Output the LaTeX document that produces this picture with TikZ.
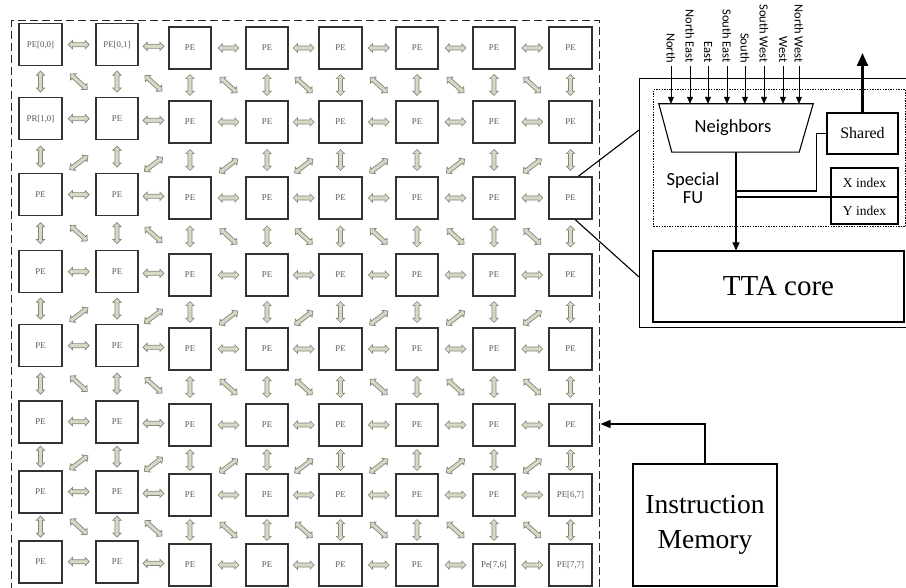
\documentclass[tikz,border=0pt]{standalone}
\usepackage{fontspec}
\setmainfont{Liberation Serif}
\newfontfamily\calib{Carlito}
\usetikzlibrary{shapes.arrows,arrows.meta,calc}
\definecolor{pebd}{HTML}{333333}
\definecolor{petx}{HTML}{555555}
\definecolor{afill}{HTML}{D8D8C6}
\definecolor{aline}{HTML}{85857A}
\def\pelbl#1#2{\ifcsname pl-#1-#2\endcsname\csname pl-#1-#2\endcsname\else PE\fi}
\expandafter\def\csname pl-0-0\endcsname{PE[0,0]}
\expandafter\def\csname pl-0-1\endcsname{PE[0,1]}
\expandafter\def\csname pl-1-0\endcsname{PR[1,0]}
\expandafter\def\csname pl-6-7\endcsname{PE[6,7]}
\expandafter\def\csname pl-7-6\endcsname{Pe[7,6]}
\expandafter\def\csname pl-7-7\endcsname{PE[7,7]}
\begin{document}
\begin{tikzpicture}[x=1pt,y=-1pt,
  pebox/.style={draw=pebd,line width=1.6pt,minimum width=42.5pt,minimum height=42pt,inner sep=0pt,text=petx,font=\fontsize{8.8}{9}\selectfont},
  darr/.style={double arrow,draw=aline,fill=afill,line width=0.7pt,minimum height=21pt,minimum width=0pt,text height=3.4pt,text depth=0pt,double arrow head extend=2.1pt,inner sep=0pt},
  blk/.style={draw=black,line width=1.1pt},
  inarr/.style={line width=1pt,-{Triangle[length=7pt,width=6pt]}},
  dirlbl/.style={font=\calib\fontsize{12.5}{13}\selectfont,rotate=-90,anchor=east,inner sep=1pt},
  plainbox/.style={draw=black,line width=1.1pt,inner sep=0pt}
]
\useasboundingbox (0,0) rectangle (906,588);
\fill[white] (0,0) rectangle (906,588);

% grid border
\node[draw=black!85,line width=1.4pt,dash pattern=on 8pt off 4pt,minimum width=588pt,minimum height=590pt,anchor=north west,inner sep=0pt] (grid) at (11,20) {};

% PEs
\foreach \c/\x in {0/40.5,1/117,2/190,3/267,4/340.5,5/417,6/494,7/570.5}{
  \foreach \r/\y in {0/48,1/122,2/198,3/275,4/349,5/425,6/495,7/565}{
    \pgfmathsetmacro\yy{\c<2 ? \y-3.3 : \y}
    \node[pebox] (p-\r-\c) at (\x,\yy) {\pelbl{\r}{\c}};
  }
}

% horizontal arrows
\foreach \r in {0,...,7}{
  \foreach \c [evaluate=\c as \cn using int(\c+1)] in {0,...,6}{
    \node[darr] (h-\r-\c) at ($(p-\r-\c)!0.5!(p-\r-\cn)$) {};
  }
}
% vertical arrows
\foreach \r [evaluate=\r as \rn using int(\r+1)] in {0,...,6}{
  \foreach \c in {0,...,7}{
    \node[darr,rotate=90] (v-\r-\c) at ($(p-\r-\c)!0.5!(p-\rn-\c)$) {};
  }
}
% diagonal arrows
\foreach \r [evaluate=\r as \rn using int(\r+1), evaluate=\r as \ang using {mod(\r,2)==1 ? 37 : -42}, evaluate=\r as \dy using {mod(\r,2)==1 ? 6 : 0}] in {0,...,6}{
  \foreach \c [evaluate=\c as \cn using int(\c+1)] in {0,...,6}{
    \node[darr,rotate=\ang,minimum height=23pt] (d-\r-\c) at ($(p-\r-\c)!0.5!(p-\rn-\cn)+(0,\dy)$) {};
  }
}

% right panel
\node[draw=black,line width=1.1pt,anchor=north west,minimum width=285pt,minimum height=249pt,inner sep=0pt] (panel) at (639,78) {};
\node[draw=black,line width=1.4pt,dash pattern=on 1.4pt off 1.2pt,anchor=north west,minimum width=252pt,minimum height=137pt,inner sep=0pt] (sfu) at (653,89) {};

\node[minimum width=154pt,minimum height=48pt,inner sep=0pt] (nb) at (736,128) {};
\draw[line width=1.1pt] (nb.north west) -- (nb.north east) -- ([xshift=-14pt]nb.south east) -- ([xshift=13pt]nb.south west) -- cycle;
\node[font=\calib\fontsize{18.5}{18}\selectfont] (nbt) at (733,128) {Neighbors};

\foreach \x/\t [count=\i] in {671/North,690/North East,708/East,727/South East,745/South,764/South West,783/West,799/North West}{
  \coordinate (in\i) at (\x,66);
  \node[dirlbl] (t\i) at (\x,64) {\t};
  \draw[inarr] (in\i) -- (in\i |- nb.north);
}

\node[plainbox,minimum width=71pt,minimum height=41pt,font=\fontsize{16}{16}\selectfont] (sh) at (862.5,133.5) {Shared};
\coordinate (shout) at (862.5,53);
\draw[line width=2.2pt,-{Triangle[length=13pt,width=11pt]}] (sh.north) -- (shout);

\node[plainbox,minimum width=67pt,minimum height=29pt,font=\fontsize{13.5}{14}\selectfont] (xi) at (864.5,182.5) {X index};
\node[plainbox,minimum width=67pt,minimum height=27pt,font=\fontsize{13.5}{14}\selectfont] (yi) at (864.5,210.5) {Y index};

\node[font=\calib\fontsize{18.5}{18}\selectfont,align=center,inner sep=0pt] (sfut) at (693,188) {Special\\FU};

\node[plainbox,minimum width=251pt,minimum height=71pt,font=\fontsize{29}{30}\selectfont] (tta) at (778.5,286.5) {TTA core};

\draw[blk,-{Triangle[length=8pt,width=7pt]}] (nb.south) -- (nb.south |- tta.north);
\coordinate (br1) at (736,191);
\coordinate (br2) at (736,197);
\draw[blk] (br1) -| ($(sh.west)+(-10,0)$) -- (sh.west);
\draw[blk] (br2) -- (br2 -| xi.south west);

% zoom lines
\draw[blk] ($(p-2-7.north west)!0.68!(p-2-7.north east)$) -- ($(panel.north west)+(0,52)$);
\draw[blk] ($(p-2-7.south west)!0.61!(p-2-7.south east)$) -- ($(panel.north west)+(0,199)$);

% instruction memory
\node[plainbox,minimum width=144pt,minimum height=122pt,align=center,font=\fontsize{27.5}{35}\selectfont] (im) at (705,525) {Instruction\\Memory};
\coordinate (imtip) at (600.5,424);
\draw[blk,-{Triangle[length=10pt,width=8pt]}] (im.north) |- (imtip);
\end{tikzpicture}
\end{document}
